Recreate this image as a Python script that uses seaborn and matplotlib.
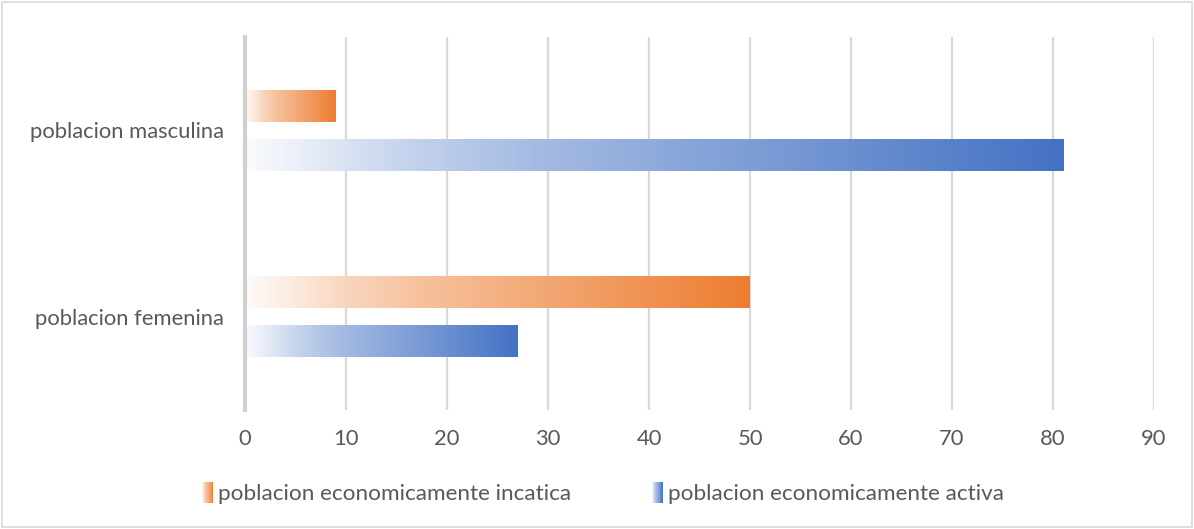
import numpy as np
import pandas as pd
import matplotlib
matplotlib.use("Agg")
import matplotlib.pyplot as plt
import seaborn as sns
from matplotlib.colors import LinearSegmentedColormap, to_rgb
from matplotlib.legend_handler import HandlerBase
from matplotlib.patches import Rectangle

# datos
categorias = ["poblacion masculina", "poblacion femenina"]
series = ["poblacion economicamente incatica", "poblacion economicamente activa"]
valores_inactiva = [9, 50]
valores_activa = [81, 27]
colores = ["#ED7D31", "#4472C4"]
ticks_x = list(range(0, 100, 10))

df = pd.DataFrame({
    "categoria": categorias * 2,
    "serie": [series[0]] * 2 + [series[1]] * 2,
    "valor": valores_inactiva + valores_activa,
})

sns.set_style("white")
plt.rcParams["font.family"] = ["Lato", "DejaVu Sans"]
gris_texto = "#595959"
tam = 15.8


def mapa_gradiente(color):
    r, g, b = to_rgb(color)
    stops = [(0.0, 0.03), (0.08, 0.14), (0.2, 0.32), (0.35, 0.48),
             (0.55, 0.64), (0.8, 0.84), (1.0, 1.0)]
    lista = [(p, (1 - a + a * r, 1 - a + a * g, 1 - a + a * b)) for p, a in stops]
    return LinearSegmentedColormap.from_list("grad", lista)


mapas = {s: mapa_gradiente(c) for s, c in zip(series, colores)}

fig = plt.figure(figsize=(11.94, 5.29), dpi=100)
ax = fig.add_axes([0.2052, 0.225, 0.7613, 0.705])

sns.barplot(data=df, x="valor", y="categoria", hue="serie", order=categorias,
            hue_order=series, palette=colores, orient="h", width=0.525,
            gap=0.347, ax=ax, legend=False)

ax.set_xlim(0, 90)
ax.set_ylim(1.5, -0.5)
grad = np.linspace(0, 1, 256).reshape(1, -1)

# rellenar barras con gradiente
for i, serie in enumerate(series):
    cont = ax.containers[i]
    for barra in cont:
        x0, y0 = barra.get_x(), barra.get_y()
        w, h = barra.get_width(), barra.get_height()
        ax.imshow(grad, cmap=mapas[serie], extent=(x0, x0 + w, y0 + h, y0),
                  aspect="auto", zorder=2, interpolation="bilinear")
        barra.set_visible(False)

ax.set_xlim(0, 90)
ax.set_ylim(1.5, -0.5)
ax.set_xticks(ticks_x)
ax.grid(axis="x", color="#d9d9d9", linewidth=1.6)
ax.set_axisbelow(True)
for lado in ["top", "right", "bottom"]:
    ax.spines[lado].set_visible(False)
ax.spines["left"].set_color("#d0d0d0")
ax.spines["left"].set_linewidth(3)
ax.tick_params(axis="x", length=0, pad=14, labelsize=tam, labelcolor=gris_texto)
ax.tick_params(axis="y", length=0, pad=15, labelsize=tam, labelcolor=gris_texto)
ax.set_xlabel("")
ax.set_ylabel("")


class ManejadorGradiente(HandlerBase):
    def create_artists(self, legend, orig_handle, xdescent, ydescent,
                       width, height, fontsize, trans):
        cmap = mapas[orig_handle.get_label()]
        n = 12
        artistas = []
        for k in range(n):
            r = Rectangle((-xdescent + k * width / n, -ydescent), width / n + 0.05,
                          height, facecolor=cmap((k + 0.5) / n), edgecolor="none",
                          transform=trans)
            artistas.append(r)
        return artistas


manejadores = [Rectangle((0, 0), 1, 1, label=s) for s in series]
fig.legend(handles=manejadores, labels=series, loc="center",
           bbox_to_anchor=(0.505, 0.068), ncol=2, frameon=False,
           handler_map={Rectangle: ManejadorGradiente()},
           handlelength=0.5, handleheight=1.1, handletextpad=0.2,
           columnspacing=3.6, fontsize=16.2, labelcolor=gris_texto)

# borde de la figura
fig.patches.append(Rectangle((0.002, 0.003), 0.996, 0.994, transform=fig.transFigure,
                             fill=False, edgecolor="#d9d9d9", linewidth=1.2))

plt.savefig("out.png", dpi=100)
